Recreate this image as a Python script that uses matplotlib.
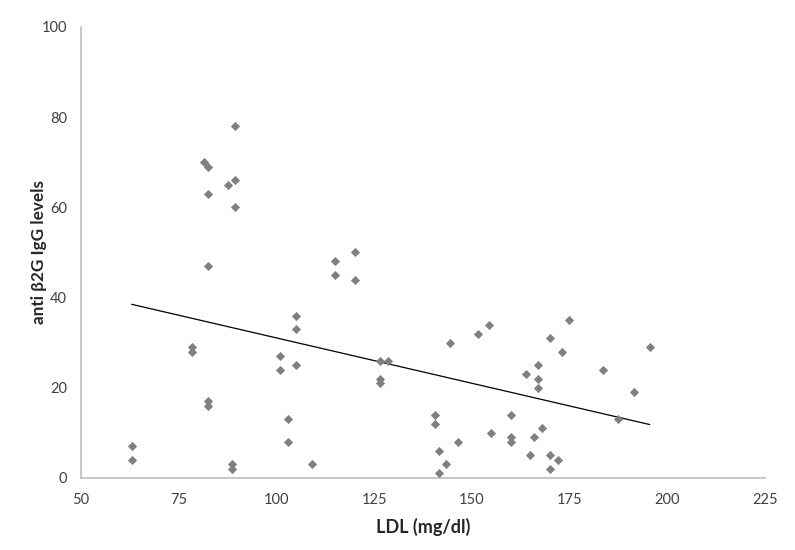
import numpy as np
from matplotlib import pyplot as plt

# LDL (mg/dl) vs anti b2G IgG levels
ldl = [63, 63, 78.5, 78.5, 81.5, 82.5, 82.5, 82.5, 82.5, 82.5,
       87.5, 88.5, 88.5, 89.5, 89.5, 89.5,
       101, 101, 103, 103, 105, 105, 105, 109,
       115, 115, 120, 120, 126.5, 128.5, 126.5, 126.5,
       140.5, 140.5, 141.5, 141.5, 143.5, 144.5, 146.5,
       151.5, 154.5, 155, 160, 160, 160, 164, 165, 166,
       167, 167, 167, 168, 170, 170, 170, 172, 173, 175,
       183.5, 187.5, 191.5, 195.5]
igg = [7, 4, 29, 28, 70, 69, 63, 47, 17, 16,
       65, 3, 2, 78, 66, 60,
       27, 24, 13, 8, 36, 33, 25, 3,
       48, 45, 50, 44, 26, 26, 22, 21,
       14, 12, 6, 1, 3, 30, 8,
       32, 34, 10, 14, 9, 8, 23, 5, 9,
       25, 22, 20, 11, 31, 5, 2, 4, 28, 35,
       24, 13, 19, 29]

xTicks = [50, 75, 100, 125, 150, 175, 200, 225]
yTicks = [0, 20, 40, 60, 80, 100]

plt.rcParams['font.family'] = ['Lato', 'DejaVu Sans']

fig = plt.figure(figsize=(7.95, 5.5), dpi=100)
ax = fig.add_axes([0.102, 0.131, 0.860, 0.820])

ax.scatter(ldl, igg, marker='D', s=22, color='#808080', linewidths=0, zorder=3)

# linear trendline over the data range
slope, intercept = np.polyfit(ldl, igg, 1)
xs = np.array([min(ldl), max(ldl)])
ax.plot(xs, slope * xs + intercept, color='black', linewidth=0.9, zorder=2)

ax.set_xlim(50, 225)
ax.set_ylim(0, 100)
ax.set_xticks(xTicks)
ax.set_yticks(yTicks)
ax.tick_params(length=0, labelsize=10.5, labelcolor='#404040')
ax.tick_params(axis='x', pad=11)
ax.tick_params(axis='y', pad=10)

for side in ['top', 'right']:
    ax.spines[side].set_visible(False)
for side in ['left', 'bottom']:
    ax.spines[side].set_color('#bfbfbf')
    ax.spines[side].set_linewidth(1.2)

ax.set_xlabel('LDL (mg/dl)', fontsize=13, fontweight='bold', color='#262626', labelpad=8)
ax.set_ylabel('anti β2G IgG levels', fontsize=12.3, fontweight='bold', color='#262626', labelpad=-4)

fig.savefig('out.png', dpi=100)
